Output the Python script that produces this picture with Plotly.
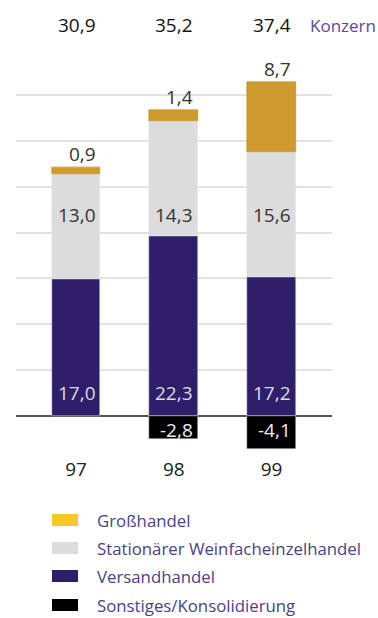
import plotly.graph_objects as go

years = ["97", "98", "99"]
versand = [17.0, 22.3, 17.2]
stationaer = [13.0, 14.3, 15.6]
grosshandel = [0.9, 1.4, 8.7]
sonstiges = [0.0, -2.8, -4.1]
konzern = [30.9, 35.2, 37.4]

legend_names = ["Großhandel", "Stationärer Weinfacheinzelhandel", "Versandhandel", "Sonstiges/Konsolidierung"]
legend_colors = ["#f5c825", "#dcdcdc", "#2f1f6b", "#000000"]

C_GOLD = "#cf9a2e"
C_GRAY = "#dcdcdc"
C_PURPLE = "#2f1f6b"
C_BLACK = "#000000"
FONT = "Open Sans"

W, H = 378, 618
ML, MR, MT, MB = 16, 46, 0, 166
PLOT_W = W - ML - MR
PLOT_H = H - MT - MB
PX_PER_UNIT = 8.06
BASE_PX = 416
y_top = BASE_PX / PX_PER_UNIT
y_bot = -(PLOT_H - BASE_PX) / PX_PER_UNIT
GRID = 5.69


def fmt(v):
    return f"{v:.1f}".replace(".", ",")


fig = go.Figure()
w = 0.5
fig.add_bar(x=years, y=versand, marker_color=C_PURPLE, width=w, name=legend_names[2])
fig.add_bar(x=years, y=stationaer, marker_color=C_GRAY, width=w, name=legend_names[1])
fig.add_bar(x=years, y=grosshandel, marker_color=C_GOLD, width=w, name=legend_names[0],
            marker_line=dict(color="#b8860b", width=0.5))
fig.add_bar(x=years, y=sonstiges, marker_color=C_BLACK, width=w, name=legend_names[3])

anns = []
dx = 0.22
for i, yr in enumerate(years):
    xr = i + dx
    top = versand[i] + stationaer[i] + grosshandel[i]
    anns.append(dict(x=xr, y=48.5, text=fmt(konzern[i]), xanchor="right", yanchor="middle",
                     font=dict(size=19, color="#111111")))
    anns.append(dict(x=xr, y=top + 1.6, text=fmt(grosshandel[i]), xanchor="right", yanchor="middle",
                     font=dict(size=19, color="#333333")))
    anns.append(dict(x=xr, y=25.0, text=fmt(stationaer[i]), xanchor="right", yanchor="middle",
                     font=dict(size=19, color="#333333")))
    anns.append(dict(x=xr, y=2.85, text=fmt(versand[i]), xanchor="right", yanchor="middle",
                     font=dict(size=19, color="#dddddd")))
    if sonstiges[i] != 0:
        anns.append(dict(x=xr, y=-1.75, text=fmt(sonstiges[i]), xanchor="right", yanchor="middle",
                         font=dict(size=19, color="#eeeeee")))


def px_x(px):
    return (px - ML) / PLOT_W


def px_y(py):
    return (MT + PLOT_H - py) / PLOT_H


anns.append(dict(xref="paper", yref="paper", x=px_x(308), y=px_y(25), text="Konzern",
                 xanchor="left", yanchor="middle", font=dict(size=17, color="#5a4a9a")))

shapes = []
row_y = [520, 548, 576, 605]
for name, col, ry in zip(legend_names, legend_colors, row_y):
    shapes.append(dict(type="rect", xref="paper", yref="paper",
                       x0=px_x(52), x1=px_x(78), y0=px_y(ry + 6), y1=px_y(ry - 6),
                       fillcolor=col, line=dict(width=0)))
    anns.append(dict(xref="paper", yref="paper", x=px_x(95), y=px_y(ry), text=name,
                     xanchor="left", yanchor="middle", font=dict(size=16.8, color="#4a3f8a")))

for a in anns:
    a["showarrow"] = False
    a.setdefault("xref", "x")
    a.setdefault("yref", "y")

fig.update_layout(
    width=W, height=H,
    margin=dict(l=ML, r=MR, t=MT, b=MB),
    barmode="relative",
    bargap=0,
    showlegend=False,
    plot_bgcolor="white",
    paper_bgcolor="white",
    font=dict(family=FONT, size=19, color="#222222"),
    annotations=anns,
    shapes=shapes,
    xaxis=dict(type="category", range=[-0.614, 2.619], showgrid=False, zeroline=False,
               showline=False, ticks="", tickfont=dict(size=19, color="#222222"),
               ticklabelstandoff=4),
    yaxis=dict(range=[y_bot, y_top], tickvals=[GRID * k for k in range(1, 8)],
               showticklabels=False, showgrid=True, gridcolor="#e2e2e2", gridwidth=1.5,
               zeroline=True, zerolinecolor="#555555", zerolinewidth=1.5, showline=False),
)

fig.write_html("out.html")
